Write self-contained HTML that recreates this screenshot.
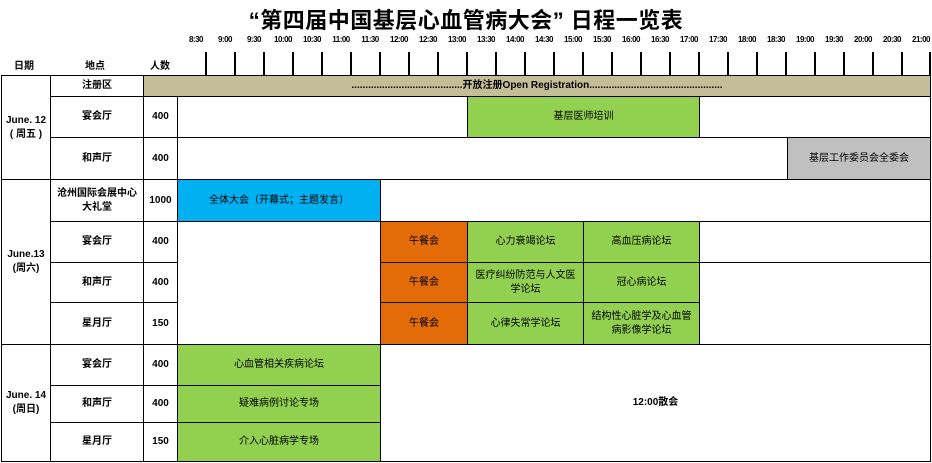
<!DOCTYPE html>
<html><head><meta charset="utf-8"><style>
*{margin:0;padding:0;box-sizing:border-box}
body{width:932px;height:463px;background:#fff;position:relative;overflow:hidden;font-family:"Liberation Sans","Noto Sans CJK SC",sans-serif;color:#000}
.c{position:absolute;border:1px solid #000;display:flex;align-items:center;justify-content:center;text-align:center;font-size:10px;line-height:14px}
.b{font-weight:bold}
.g{background:#92d050}.o{background:#e36c09}.bl{background:#00b0f0}.gr{background:#c0c0c0}.t{background:#c4bd97}
.tk{position:absolute;top:52px;width:2px;height:23px;background:#000}
.tl{position:absolute;top:35px;width:30px;text-align:center;font-size:8px;font-weight:bold;letter-spacing:-0.5px}
.h{position:absolute;top:57px;font-size:10px;font-weight:bold}
</style></head><body>
<div style="position:absolute;left:0;top:3px;width:932px;text-align:center;font-size:22px;font-weight:bold;letter-spacing:0.5px">“第四届中国基层心血管病大会” 日程一览表</div>
<div id="tl"></div>
<div class="h" style="left:14px">日期</div>
<div class="h" style="left:85px">地点</div>
<div class="h" style="left:150px">人数</div>
<script>
var s='';var L=['8:30','9:00','9:30','10:00','10:30','11:00','11:30','12:00','12:30','13:00','13:30','14:00','14:30','15:00','15:30','16:00','16:30','17:00','17:30','18:00','18:30','19:00','19:30','20:00','20:30','21:00'];
for(var i=0;i<26;i++){s+='<div class="tl" style="left:'+(181+29*i)+'px">'+L[i]+'</div>';}
for(var k=0;k<25;k++){s+='<div class="tk" style="left:'+(205+29*k)+'px"></div>';}
s+='<div class="tk" style="left:929px"></div>';
document.getElementById('tl').outerHTML=s;
</script>
<div class="c b" style="left:1px;top:75px;width:50px;height:105px">June. 12<br>( 周五 )</div>
<div class="c b" style="left:1px;top:179px;width:50px;height:166px">June.13<br>(周六)</div>
<div class="c b" style="left:1px;top:344px;width:50px;height:118px">June. 14<br>(周日)</div>
<div class="c b" style="left:50px;top:75px;width:94px;height:22px">注册区</div>
<div class="c t b" style="left:143px;top:75px;width:788px;height:22px">........................................开放注册Open Registration................................................</div>
<div class="c b" style="left:50px;top:96px;width:94px;height:42px">宴会厅</div>
<div class="c b" style="left:143px;top:96px;width:35px;height:42px">400</div>
<div class="c" style="left:177px;top:96px;width:291px;height:42px"></div>
<div class="c g" style="left:467px;top:96px;width:233px;height:42px">基层医师培训</div>
<div class="c" style="left:699px;top:96px;width:232px;height:42px"></div>
<div class="c b" style="left:50px;top:137px;width:94px;height:43px">和声厅</div>
<div class="c b" style="left:143px;top:137px;width:35px;height:43px">400</div>
<div class="c" style="left:177px;top:137px;width:611px;height:43px"></div>
<div class="c gr" style="left:787px;top:137px;width:144px;height:43px">基层工作委员会全委会</div>
<div class="c b" style="left:50px;top:179px;width:94px;height:43px;font-size:10px">沧州国际会展中心<br>大礼堂</div>
<div class="c b" style="left:143px;top:179px;width:35px;height:43px">1000</div>
<div class="c bl" style="left:177px;top:179px;width:204px;height:43px">全体大会（开幕式；主题发言）</div>
<div class="c" style="left:380px;top:179px;width:551px;height:43px"></div>
<div class="c" style="left:177px;top:221px;width:204px;height:124px"></div>
<div class="c b" style="left:50px;top:221px;width:94px;height:42px">宴会厅</div>
<div class="c b" style="left:143px;top:221px;width:35px;height:42px">400</div>
<div class="c o" style="left:380px;top:221px;width:88px;height:42px">午餐会</div>
<div class="c g" style="left:467px;top:221px;width:117px;height:42px">心力衰竭论坛</div>
<div class="c g" style="left:583px;top:221px;width:117px;height:42px">高血压病论坛</div>
<div class="c" style="left:699px;top:221px;width:232px;height:42px"></div>
<div class="c b" style="left:50px;top:262px;width:94px;height:41px">和声厅</div>
<div class="c b" style="left:143px;top:262px;width:35px;height:41px">400</div>
<div class="c o" style="left:380px;top:262px;width:88px;height:41px">午餐会</div>
<div class="c g" style="left:467px;top:262px;width:117px;height:41px">医疗纠纷防范与人文医<br>学论坛</div>
<div class="c g" style="left:583px;top:262px;width:117px;height:41px">冠心病论坛</div>
<div class="c" style="left:699px;top:262px;width:232px;height:83px"></div>
<div class="c b" style="left:50px;top:302px;width:94px;height:43px">星月厅</div>
<div class="c b" style="left:143px;top:302px;width:35px;height:43px">150</div>
<div class="c o" style="left:380px;top:302px;width:88px;height:43px">午餐会</div>
<div class="c g" style="left:467px;top:302px;width:117px;height:43px">心律失常学论坛</div>
<div class="c g" style="left:583px;top:302px;width:117px;height:43px">结构性心脏学及心血管<br>病影像学论坛</div>
<div class="c b" style="left:50px;top:344px;width:94px;height:42px">宴会厅</div>
<div class="c b" style="left:143px;top:344px;width:35px;height:42px">400</div>
<div class="c g" style="left:177px;top:344px;width:204px;height:42px">心血管相关疾病论坛</div>
<div class="c b" style="left:50px;top:385px;width:94px;height:38px">和声厅</div>
<div class="c b" style="left:143px;top:385px;width:35px;height:38px">400</div>
<div class="c g" style="left:177px;top:385px;width:204px;height:38px">疑难病例讨论专场</div>
<div class="c b" style="left:50px;top:422px;width:94px;height:40px">星月厅</div>
<div class="c b" style="left:143px;top:422px;width:35px;height:40px">150</div>
<div class="c g" style="left:177px;top:422px;width:204px;height:40px">介入心脏病学专场</div>
<div class="c b" style="left:380px;top:344px;width:551px;height:118px">12:00散会</div>
</body></html>
